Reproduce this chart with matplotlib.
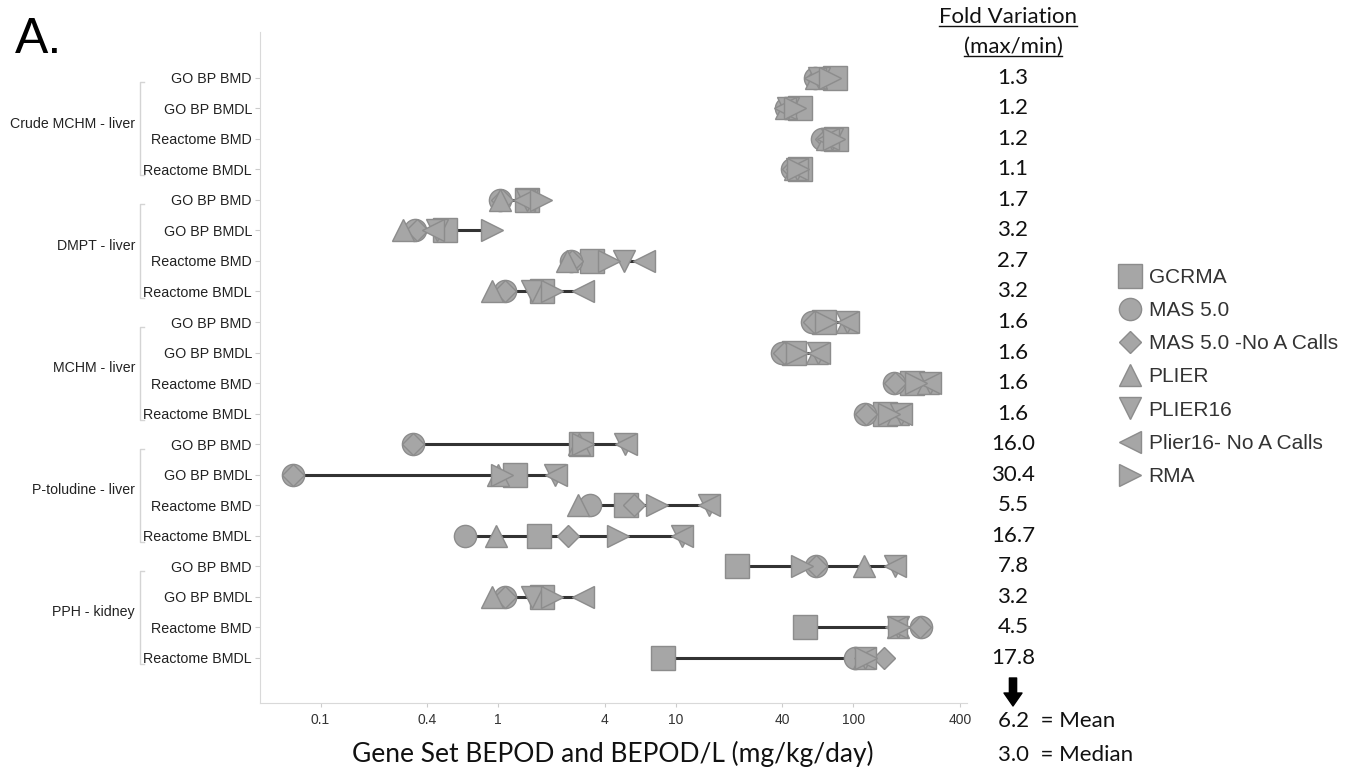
import matplotlib
matplotlib.use('Agg')
import matplotlib.pyplot as plt
from matplotlib.lines import Line2D
from matplotlib.patches import FancyArrowPatch
import matplotlib.transforms as mtransforms
import numpy as np

# gene set groups, 4 rows each
groups = ['Crude MCHM - liver', 'DMPT - liver', 'MCHM - liver', 'P-toludine - liver', 'PPH - kidney']
row_types = ['GO BP BMD', 'GO BP BMDL', 'Reactome BMD', 'Reactome BMDL']
row_labels = row_types * len(groups)

methods = ['GCRMA', 'MAS 5.0', 'MAS 5.0 -No A Calls', 'PLIER', 'PLIER16',
           'Plier16- No A Calls', 'RMA']
markers = ['s', 'o', 'D', '^', 'v', '<', '>']
msizes = [17, 16, 11, 16, 16, 16, 16]

# BEPOD values (mg/kg/day) per method, one value per row
gcrma = [79, 50, 80, 50, 1.45, 0.50, 3.36, 1.76, 68.7, 46.4, 215, 151,
         2.94, 1.24, 5.24, 1.71, 22.2, 1.76, 53.7, 8.45]
mas5 = [61, 42, 67, 45.5, 1.03, 0.34, 2.56, 1.09, 58.5, 40, 170, 117,
        0.33, 0.07, 3.29, 0.65, 62, 1.09, 240, 102]
mas5_noa = [63, 43, 70, 46, 1.05, 0.35, 2.6, 1.1, 60, 41, 172, 118,
            0.33, 0.07, 5.8, 2.49, 62, 1.1, 238, 150]
plier = [62, 42, 71, 47, 1.03, 0.29, 2.45, 0.93, 92, 63, 265, 180,
         2.85, 1.0, 2.82, 0.97, 115, 0.93, 178, 115]
plier16 = [64, 43, 76, 48, 1.45, 0.45, 5.1, 1.55, 92, 63.6, 270, 185,
           5.2, 2.1, 15.5, 10.85, 173, 1.55, 178, 117]
plier16_noa = [61, 41.5, 72, 48, 1.4, 0.43, 6.6, 3.0, 93, 64, 272, 187,
               5.28, 2.13, 15.5, 10.85, 173, 3.0, 175, 117]
rma = [74, 47, 78, 49, 1.75, 0.93, 4.2, 2.0, 70, 48, 225, 160,
       3.0, 1.05, 7.9, 4.75, 51.3, 2.0, 182, 118]
series = [gcrma, mas5, mas5_noa, plier, plier16, plier16_noa, rma]

fold_variation = ['1.3', '1.2', '1.2', '1.1', '1.7', '3.2', '2.7', '3.2', '1.6', '1.6',
                  '1.6', '1.6', '16.0', '30.4', '5.5', '16.7', '7.8', '3.2', '4.5', '17.8']
mean_fold = '6.2'
median_fold = '3.0'

xticks = [0.1, 0.4, 1, 4, 10, 40, 100, 400]
xtick_labels = ['0.1', '0.4', '1', '4', '10', '40', '100', '400']

fill = '#a6a6a6'
edge = '#8c8c8c'
arial = 'Liberation Sans'
calibri = 'Lato'

W, H = 1362, 769
fig = plt.figure(figsize=(W / 100, H / 100), dpi=100)
ax = fig.add_axes([260 / W, (H - 703) / H, (967 - 260) / W, (703 - 32) / H])

y = np.arange(len(row_labels))
data = np.array(series)
ax.hlines(y, data.min(axis=0), data.max(axis=0), color='#333333', lw=2.2, zorder=1)
for vals, m, ms, name in zip(series, markers, msizes, methods):
    ax.plot(vals, y, linestyle='none', marker=m, ms=ms, mfc=fill, mec=edge,
            mew=1, zorder=2, label=name)

ax.set_xscale('log')
ax.set_xlim(0.0456, 438)
ax.set_ylim(len(row_labels) - 1 + 1.48, -1.5)
ax.set_xticks(xticks)
ax.set_xticklabels(xtick_labels, fontfamily=arial)
ax.xaxis.set_minor_locator(matplotlib.ticker.NullLocator())
ax.set_yticks(y)
ax.set_yticklabels(row_labels, fontfamily=arial)
ax.tick_params(axis='x', length=3, color='#cccccc', labelsize=10, labelcolor='#333333', pad=4)
ax.tick_params(axis='y', length=3.6, color='#cccccc', labelsize=10.3, labelcolor='#222222', pad=2.2)
for s in ['top', 'right']:
    ax.spines[s].set_visible(False)
for s in ['left', 'bottom']:
    ax.spines[s].set_color('#d9d9d9')

# group labels with brackets on the left
trans = mtransforms.blended_transform_factory(fig.transFigure, ax.transData)
for gi, g in enumerate(groups):
    r0 = gi * 4
    ax.text(135 / W, r0 + 1.5, g, transform=trans, ha='right', va='center',
            fontsize=10.2, fontfamily=arial, color='#222222')
    bx = 140 / W
    ax.add_line(Line2D([bx + 4 / W, bx, bx, bx + 4 / W], [r0 + 0.15, r0 + 0.15, r0 + 3.2, r0 + 3.2],
                       transform=trans, color='#d4d4d4', lw=1, clip_on=False))

# fold variation column
fx = 1013 / W
for yi, fv in zip(y, fold_variation):
    ax.text(fx, yi, fv, transform=trans, ha='center', va='center', fontsize=16,
            fontfamily=calibri, color='#111111')
t1 = fig.text(fx - 5 / W, 1 - 17 / H, 'Fold Variation', ha='center', va='center',
              fontsize=16, fontfamily=calibri, color='#111111')
t2 = fig.text(fx, 1 - 47 / H, '(max/min)', ha='center', va='center',
              fontsize=16, fontfamily=calibri, color='#111111')

arrow = FancyArrowPatch((fx, 1 - 678 / H), (fx, 1 - 706 / H), transform=fig.transFigure,
                        arrowstyle='simple,head_width=0.5,head_length=0.36,tail_width=0.2',
                        mutation_scale=26, shrinkA=0, shrinkB=0, color='black')
fig.add_artist(arrow)
fig.text(998 / W, 1 - 721 / H, mean_fold + '  = Mean', ha='left', va='center', fontsize=16,
         fontfamily=calibri, color='#111111')
fig.text(998 / W, 1 - 755 / H, median_fold + '  = Median', ha='left', va='center', fontsize=16,
         fontfamily=calibri, color='#111111')

fig.text(613 / W, 1 - 754 / H, 'Gene Set BEPOD and BEPOD/L (mg/kg/day)', ha='center',
         va='center', fontsize=19, fontfamily=calibri, color='#111111')
fig.text(15 / W, 1 - 40 / H, 'A.', ha='left', va='center', fontsize=36, fontfamily=arial)

handles = [Line2D([], [], linestyle='none', marker=m, ms=ms, mfc=fill, mec=edge, mew=1)
           for m, ms in zip(markers, msizes)]
fig.legend(handles, methods, loc='upper left', bbox_to_anchor=(1120 / W, 1 - 268 / H),
           frameon=False, borderpad=0, borderaxespad=0, handlelength=1.0,
           handletextpad=0.38, labelspacing=0.68, prop={'family': arial, 'size': 15},
           labelcolor='#333333')

# underline the column header
fig.canvas.draw()
renderer = fig.canvas.get_renderer()
for t in (t1, t2):
    bb = t.get_window_extent(renderer)
    yl = bb.y0 + 1
    fig.add_artist(Line2D([bb.x0 / W, bb.x1 / W], [yl / H, yl / H], transform=fig.transFigure,
                          color='#111111', lw=1))

fig.savefig('out.png', dpi=100)
